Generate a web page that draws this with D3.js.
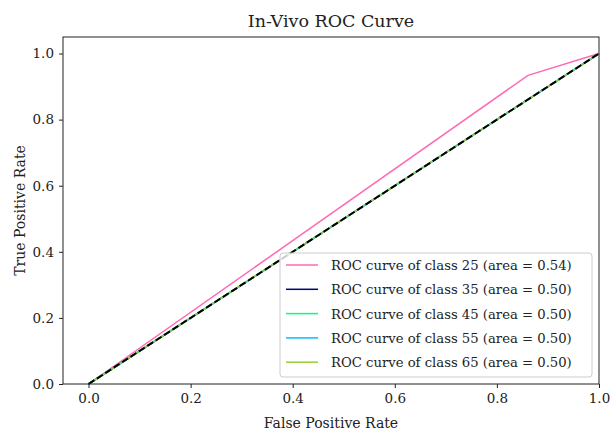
<!DOCTYPE html>
<html>
<head>
<meta charset="utf-8">
<script src="https://cdn.jsdelivr.net/npm/d3@7"></script>
<style>
  body { margin: 0; background: #fff; }
  text { font-family: "DejaVu Serif", "Liberation Serif", serif; fill: #222; }
</style>
</head>
<body>
<div id="chart"></div>
<script>
var classes = ["25", "35", "45", "55", "65"];
var areas = ["0.54", "0.50", "0.50", "0.50", "0.50"];
var colors = ["hotpink", "navy", "springgreen", "deepskyblue", "yellowgreen"];
var fprs = [[0, 0.861, 1], [0, 1], [0, 1], [0, 1], [0, 1]];
var tprs = [[0, 0.934, 1], [0, 1], [0, 1], [0, 1], [0, 1]];
var ticks = [0, 0.2, 0.4, 0.6, 0.8, 1.0];

var props = { width: 610, height: 437, left: 63, right: 599, top: 37, bottom: 384 };

var svg = d3.select("#chart").append("svg")
  .attr("width", props.width).attr("height", props.height);

var x = d3.scaleLinear().domain([-0.05, 1.0]).range([props.left, props.right]);
var y = d3.scaleLinear().domain([0, 1.05]).range([props.bottom, props.top]);

var line = d3.line().x(function(d){return x(d[0])}).y(function(d){return y(d[1])});

var plot = svg.append("g");

classes.forEach(function(c, i){
  var pts = fprs[i].map(function(f, j){return [f, tprs[i][j]]});
  plot.append("path")
    .attr("d", line(pts))
    .style("fill", "none")
    .style("stroke", colors[i])
    .style("stroke-width", 1.5);
});

plot.append("path")
  .attr("d", line([[0, 0], [1, 1]]))
  .style("fill", "none")
  .style("stroke", "black")
  .style("stroke-width", 2)
  .style("stroke-dasharray", "7,3");

// axes
var xAxis = svg.append("g").attr("transform", "translate(0," + props.bottom + ")")
  .call(d3.axisBottom(x).tickValues(ticks).tickFormat(d3.format(".1f")).tickSize(4).tickPadding(5));
var yAxis = svg.append("g").attr("transform", "translate(" + props.left + ",0)")
  .call(d3.axisLeft(y).tickValues(ticks).tickFormat(d3.format(".1f")).tickSize(4).tickPadding(5));
[xAxis, yAxis].forEach(function(a){
  a.select(".domain").remove();
  a.selectAll("text").style("font-size", "13.5px").style("font-family", "DejaVu Serif, serif").attr("fill", "#222");
  a.selectAll("line").attr("stroke", "#222");
});

svg.append("rect")
  .attr("x", props.left).attr("y", props.top)
  .attr("width", props.right - props.left).attr("height", props.bottom - props.top)
  .style("fill", "none").style("stroke", "#222").style("stroke-width", 1);

svg.append("text").attr("x", (props.left + props.right) / 2).attr("y", 27)
  .attr("text-anchor", "middle").style("font-size", "17.5px").text("In-Vivo ROC Curve");
svg.append("text").attr("x", (props.left + props.right) / 2).attr("y", 428)
  .attr("text-anchor", "middle").style("font-size", "14px").text("False Positive Rate");
svg.append("text").attr("transform", "translate(25," + (props.top + props.bottom) / 2 + ") rotate(-90)")
  .attr("text-anchor", "middle").style("font-size", "14px").text("True Positive Rate");

// legend
var legend = svg.append("g").attr("transform", "translate(280,253)");
legend.append("rect").attr("width", 312).attr("height", 124).attr("rx", 3)
  .style("fill", "white").style("fill-opacity", 0.8).style("stroke", "#ccc");
classes.forEach(function(c, i){
  var row = legend.append("g").attr("transform", "translate(0," + (12 + i * 24.3) + ")");
  row.append("line").attr("x1", 6).attr("x2", 38).attr("y1", 0).attr("y2", 0)
    .style("stroke", colors[i]).style("stroke-width", 1.5);
  row.append("text").attr("x", 51).attr("y", 5).style("font-size", "13.2px")
    .text("ROC curve of class " + c + " (area = " + areas[i] + ")");
});
</script>
</body>
</html>
